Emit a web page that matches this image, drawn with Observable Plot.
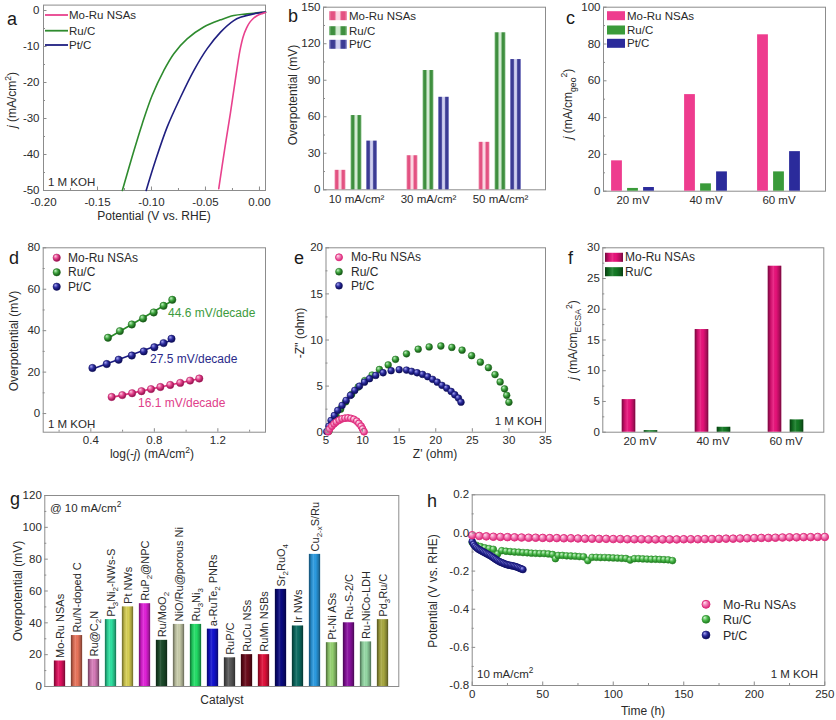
<!DOCTYPE html>
<html><head><meta charset="utf-8">
<script src="https://cdn.jsdelivr.net/npm/d3@7"></script>
<script src="https://cdn.jsdelivr.net/npm/@observablehq/plot@0.6"></script>
<style>
body{margin:0;background:#fff;}
#root{position:relative;width:836px;height:720px;overflow:hidden;background:#fff;}
#root svg{position:absolute;overflow:visible;}
</style></head><body><div id="root"></div>
<script>
// ---------------- DATA ----------------
// (a) LSV curves: potential (V vs RHE) and current density (mA/cm2)
const aMoRuV = [0.0056, 0.003, 0.000, -0.003, -0.006, -0.009, -0.012, -0.015, -0.018, -0.0222, -0.0269, -0.0324, -0.0377];
const aMoRuJ = [-0.55, -0.8, -1.1, -1.6, -2.3, -3.3, -4.9, -7.2, -11.0, -19.0, -28.5, -38.9, -49.5];
const aRuCV = [0.0056, -0.0114, -0.0238, -0.036, -0.0516, -0.067, -0.0793, -0.0886, -0.0994, -0.1086, -0.118, -0.127];
const aRuCJ = [-0.46, -0.93, -1.4, -2.6, -4.6, -7.9, -12.0, -16.7, -23.6, -31.5, -40.7, -50];
const aPtCV = [0.0056, -0.0053, -0.0176, -0.0238, -0.036, -0.0484, -0.0608, -0.0731, -0.0855, -0.0963, -0.1049];
const aPtCJ = [-0.46, -0.93, -1.9, -2.8, -6.0, -10.6, -16.7, -24.1, -32.4, -41.7, -50];

// (b) overpotential at current densities
const bCats = ["10 mA/cm²", "30 mA/cm²", "50 mA/cm²"];
const bMoRu = [16, 28, 39];
const bRuC = [61, 98, 129];
const bPtC = [40, 76, 107];

// (c) current density at overpotentials
const cCats = ["20 mV", "40 mV", "60 mV"];
const cMoRu = [16.5, 52.5, 85];
const cRuC = [1.5, 4, 10.5];
const cPtC = [2, 10.5, 21.5];

// (d) Tafel
const dMoRuX = [0.531, 0.598, 0.660, 0.719, 0.779, 0.838, 0.900, 0.963, 1.025, 1.083];
const dMoRuY = [8.0, 8.9, 9.8, 10.8, 11.8, 12.8, 13.8, 14.8, 15.9, 16.9];
const dRuCX = [0.508, 0.583, 0.658, 0.729, 0.796, 0.858, 0.913];
const dRuCY = [36.6, 39.8, 43.0, 45.9, 48.8, 52.0, 54.9];
const dPtCX = [0.41, 0.50, 0.575, 0.658, 0.733, 0.80, 0.858, 0.908];
const dPtCY = [22.0, 23.9, 26.0, 28.0, 30.0, 32.0, 34.0, 36.1];
const dSlopes = ["16.1 mV/decade", "44.6 mV/decade", "27.5 mV/decade"];

// (e) Nyquist
const eMoRuX = [5.3, 5.5, 5.8, 6.1, 6.4, 6.8, 7.2, 7.6, 8.0, 8.4, 8.8, 9.2, 9.5, 9.8, 10.0, 10.2];
const eMoRuY = [0.05, 0.35, 0.65, 0.9, 1.1, 1.3, 1.45, 1.52, 1.55, 1.5, 1.4, 1.2, 0.95, 0.65, 0.35, 0.05];
const eRuCX = [5.4, 5.9, 6.4, 7.0, 7.7, 8.5, 9.4, 10.3, 11.3, 12.3, 13.5, 14.5, 16.0, 17.6, 19.1, 20.7, 22.2, 23.6, 24.9, 26.1, 27.2, 28.1, 28.8, 29.4, 29.7, 30.0];
const eRuCY = [0.1, 0.9, 1.7, 2.5, 3.3, 4.1, 4.9, 5.6, 6.2, 6.8, 7.3, 7.9, 8.5, 9.0, 9.25, 9.35, 9.2, 8.9, 8.3, 7.6, 7.0, 6.25, 5.45, 4.7, 4.0, 3.25];
const ePtCX = [5.1, 5.4, 5.69, 6.14, 6.6, 7.2, 7.75, 8.34, 8.93, 9.58, 10.26, 10.95, 11.8, 12.8, 13.9, 15.0, 16.0, 16.7, 17.45, 18.2, 18.9, 19.57, 20.2, 20.85, 21.5, 22.1, 22.6, 23.1, 23.45];
const ePtCY = [0.07, 0.65, 1.27, 1.81, 2.36, 2.9, 3.45, 3.99, 4.53, 5.0, 5.43, 5.8, 6.16, 6.45, 6.67, 6.78, 6.74, 6.6, 6.45, 6.27, 6.02, 5.73, 5.43, 5.08, 4.78, 4.42, 4.06, 3.7, 3.26];

// (f) specific activity (ECSA normalised)
const fCats = ["20 mV", "40 mV", "60 mV"];
const fMoRu = [5.3, 16.7, 27.0];
const fRuC = [0.25, 0.8, 2.0];

// (g) comparison of catalysts @ 10 mA/cm2
const gNames = ["Mo-Ru NSAs", "Ru/N-doped C", "Ru@C_{2}N", "Pt_{3}Ni_{2}-NWs-S", "Pt NWs", "RuP_{2}@NPC", "Ru/MoO_{2}", "NiO/Ru@porous Ni", "Ru_{3}Ni_{3}", "a-RuTe_{2} PNRs", "RuP/C", "RuCu NSs", "RuMn NSBs", "Sr_{2}RuO_{4}", "Ir NWs", "Cu_{2-x}S/Ru", "Pt-Ni ASs", "Ru-S-2/C", "Ru-NiCo-LDH", "Pd_{3}Ru/C"];
const gValues = [16, 32, 17, 42, 50, 52, 29, 39, 39, 36, 18, 20, 20, 61, 38, 83, 27.5, 40, 28, 42];
const gColors = ["#e0115f", "#e8735a", "#d67bb8", "#2ee0a0", "#d6ce52", "#e020d8", "#1b4a2a", "#c8ccaa", "#22dd66", "#1212d0", "#585858", "#6a0a1a", "#e0103a", "#0a0a80", "#0b6a60", "#2a9ae0", "#94d070", "#8a10a0", "#94d8a4", "#a8a840"];

// (h) stability
const hMoRuT = [0,5,10,15,20,25,30,35,40,45,50,55,60,65,70,75,80,85,90,95,100,105,110,115,120,125,130,135,140,145,150,155,160,165,170,175,180,185,190,195,200,205,210,215,220,225,230,235,240,245,250];
const hMoRuV = [-0.012,-0.016,-0.018,-0.020,-0.021,-0.022,-0.023,-0.024,-0.025,-0.025,-0.026,-0.027,-0.027,-0.028,-0.028,-0.029,-0.030,-0.030,-0.031,-0.031,-0.032,-0.032,-0.033,-0.033,-0.033,-0.034,-0.034,-0.034,-0.034,-0.034,-0.033,-0.033,-0.033,-0.032,-0.032,-0.031,-0.030,-0.030,-0.029,-0.028,-0.027,-0.026,-0.026,-0.025,-0.024,-0.023,-0.023,-0.022,-0.022,-0.021,-0.021];
const hRuCT = [0,3,6,9,12,15,18,21,24,27,30,33,36,39,42,45,48,51,54,57,59,61,64,67,70,73,76,79,82,85,88,91,94,97,100,103,106,109,112,115,118,121,124,127,130,133,136,139,142];
const hRuCV = [-0.05,-0.065,-0.072,-0.078,-0.082,-0.086,-0.11,-0.093,-0.096,-0.098,-0.100,-0.101,-0.103,-0.104,-0.106,-0.107,-0.108,-0.108,-0.110,-0.113,-0.135,-0.118,-0.118,-0.120,-0.121,-0.122,-0.124,-0.125,-0.145,-0.128,-0.128,-0.129,-0.129,-0.130,-0.131,-0.132,-0.133,-0.134,-0.142,-0.135,-0.135,-0.136,-0.137,-0.138,-0.138,-0.139,-0.140,-0.141,-0.145];
const hPtCT = [0,1,2,3,4,5,6,7,8,9,10,11,12,13,14,15,16,17,18,19,20,21,22,23,24,25,26,27,28,29,30,31,32,33,34,35,36];
const hPtCV = [-0.045,-0.06,-0.07,-0.077,-0.083,-0.088,-0.092,-0.096,-0.100,-0.104,-0.108,-0.112,-0.116,-0.120,-0.125,-0.130,-0.135,-0.140,-0.145,-0.149,-0.153,-0.156,-0.159,-0.162,-0.165,-0.167,-0.169,-0.170,-0.172,-0.173,-0.175,-0.177,-0.180,-0.183,-0.186,-0.189,-0.192];

const series = ["Mo-Ru NSAs", "Ru/C", "Pt/C"];

// ---------------- HELPERS ----------------
const FONT = '"Liberation Sans", Arial, Helvetica, sans-serif';
const root = document.getElementById("root");
const AXC = "#8c8c8c";
const zip = (xs, ys) => xs.slice(0, Math.min(xs.length, ys.length)).map((x, i) => ({x, y: ys[i]}));
const cat = (cats, vs) => cats.map((c, i) => ({c, v: vs[i]}));

function box(L, T, W, H, x0, x1, y0, y1) {
  return {width: W, height: H, marginLeft: x0 - L, marginRight: L + W - x1, marginTop: y0 - T, marginBottom: T + H - y1};
}
function mk(opts, L, T) {
  const svg = Plot.plot({...opts, style: {fontFamily: FONT, fontSize: "11.5px", color: "#2a2a2a", background: "transparent", overflow: "visible"}});
  svg.style.position = "absolute"; svg.style.left = L + "px"; svg.style.top = T + "px";
  root.appendChild(svg);
  return svg;
}
function yAx(ticks, fmt, minor, pad = 3) {
  return [
    Plot.axisY({ticks, tickFormat: fmt, tickSize: 0, tickPadding: pad, label: null}),
    Plot.axisY({ticks, tickFormat: () => "", tickSize: -3.5, stroke: AXC, label: null}),
    minor ? Plot.axisY({ticks: minor, tickFormat: () => "", tickSize: -2, stroke: AXC, label: null}) : null
  ];
}
function xAx(ticks, fmt, minor, pad = 4) {
  return [
    Plot.axisX({ticks, tickFormat: fmt, tickSize: 0, tickPadding: pad, label: null}),
    Plot.axisX({ticks, tickFormat: () => "", tickSize: -3.5, stroke: AXC, label: null}),
    minor ? Plot.axisX({ticks: minor, tickFormat: () => "", tickSize: -2, stroke: AXC, label: null}) : null
  ];
}
const frame = () => Plot.frame({stroke: AXC});
const side = (w) => ({insetLeft: w, insetRight: w});

function richify(el, str, size) {
  while (el.firstChild) el.removeChild(el.firstChild);
  const re = /([_^*])\{([^}]*)\}/g;
  let last = 0, cur = 0, m;
  const segs = [];
  while ((m = re.exec(str))) {
    if (m.index > last) segs.push({t: str.slice(last, m.index), k: ""});
    segs.push({t: m[2], k: m[1]});
    last = re.lastIndex;
  }
  if (last < str.length) segs.push({t: str.slice(last), k: ""});
  for (const s of segs) {
    const ts = document.createElementNS("http://www.w3.org/2000/svg", "tspan");
    let target = 0;
    if (s.k === "_") { target = size * 0.3; ts.setAttribute("font-size", size * 0.72); }
    else if (s.k === "^") { target = -size * 0.42; ts.setAttribute("font-size", size * 0.72); }
    else if (s.k === "*") { ts.setAttribute("font-style", "italic"); }
    const dy = target - cur;
    if (dy) ts.setAttribute("dy", dy.toFixed(2));
    cur = target;
    ts.textContent = s.t;
    el.appendChild(ts);
  }
}

// ---------------- OVERLAY (defs, labels, legends) ----------------
const ov = d3.select(root).append("svg").attr("width", 836).attr("height", 720)
  .style("left", "0px").style("top", "0px").style("z-index", 5).style("pointer-events", "none");
const defs = ov.append("defs");
function linGrad(id, stops) {
  const g = defs.append("linearGradient").attr("id", id).attr("x1", 0).attr("x2", 1).attr("y1", 0).attr("y2", 0);
  stops.forEach(([o, c, op]) => g.append("stop").attr("offset", o).attr("stop-color", c).attr("stop-opacity", op == null ? 1 : op));
}
function radGrad(id, light, base, dark) {
  const g = defs.append("radialGradient").attr("id", id).attr("cx", 0.4).attr("cy", 0.38).attr("r", 0.62).attr("fx", 0.32).attr("fy", 0.28);
  g.append("stop").attr("offset", 0).attr("stop-color", light);
  g.append("stop").attr("offset", 0.5).attr("stop-color", base);
  g.append("stop").attr("offset", 1).attr("stop-color", dark);
}
function stripe(id, edge, dark, light) {
  linGrad(id, [[0, edge], [0.12, dark], [0.3, dark], [0.42, light], [0.58, light], [0.7, dark], [0.88, dark], [1, edge]]);
}
stripe("gbPink", "#f2a0bb", "#e35282", "#fbd6e2");
stripe("gbGreen", "#9ccc9c", "#3f8f3f", "#d3ebd3");
stripe("gbBlue", "#a8a8dc", "#3c3c94", "#d0d0f0");
linGrad("shade", [[0, "#000", 0.5], [0.22, "#000", 0.12], [0.42, "#fff", 0.12], [0.6, "#000", 0.0], [0.85, "#000", 0.25], [1, "#000", 0.5]]);
radGrad("sphPink", "#ffd0e4", "#e4428c", "#8c0e48");
radGrad("sphGreen", "#c4f2c4", "#3ba23b", "#124e12");
radGrad("sphNavy", "#a8a8f4", "#2a2a9c", "#0a0a50");
radGrad("sphPinkH", "#ffe6f1", "#f27ab4", "#d8287a");
radGrad("sphGreenH", "#d0f6d0", "#4cba4c", "#1e7a1e");

function T(x, y, str, o = {}) {
  const size = o.size || 12;
  const t = ov.append("text").attr("font-size", size).attr("text-anchor", o.anchor || "start")
    .attr("fill", o.fill || "#2a2a2a").attr("font-family", FONT);
  if (o.rotate) t.attr("transform", `translate(${x},${y}) rotate(${o.rotate})`);
  else t.attr("x", x).attr("y", y);
  richify(t.node(), str, size);
}

// ---------------- PANEL a ----------------
mk({
  ...box(0, 0, 275, 225, 43, 265, 4.6, 190),
  x: {domain: [-0.2, 0.0056]}, y: {domain: [-50, 1.5]},
  marks: [
    frame(),
    Plot.line(zip(aRuCV, aRuCJ), {x: "x", y: "y", stroke: "#2e8b2e", strokeWidth: 1.6, curve: "catmull-rom"}),
    Plot.line(zip(aPtCV, aPtCJ), {x: "x", y: "y", stroke: "#1f1f80", strokeWidth: 1.6, curve: "catmull-rom"}),
    Plot.line(zip(aMoRuV, aMoRuJ), {x: "x", y: "y", stroke: "#e8418d", strokeWidth: 1.6, curve: "catmull-rom"}),
    yAx([-50, -40, -30, -20, -10, 0], d => String(d), [-45, -35, -25, -15, -5], 4),
    xAx([-0.2, -0.15, -0.1, -0.05, 0], d => d.toFixed(2), [-0.175, -0.125, -0.075, -0.025], 7)
  ]
}, 0, 0);

// ---------------- PANEL b ----------------
mk({
  ...box(275, 0, 285, 225, 323, 545, 6.7, 189.3),
  x: {type: "band", domain: bCats, range: [45, 261], padding: 0},
  y: {domain: [0, 150]},
  marks: [
    frame(),
    Plot.barY(cat(bCats, bMoRu), {x: "c", y: "v", fill: "url(#gbPink)", ...side(30.5), dx: -16}),
    Plot.barY(cat(bCats, bRuC), {x: "c", y: "v", fill: "url(#gbGreen)", ...side(30.5), dx: 0}),
    Plot.barY(cat(bCats, bPtC), {x: "c", y: "v", fill: "url(#gbBlue)", ...side(30.5), dx: 15.5}),
    yAx([0, 30, 60, 90, 120, 150], d => String(d), [15, 45, 75, 105, 135]),
    Plot.axisX({tickSize: 0, tickPadding: 5, label: null})
  ]
}, 275, 0);

// ---------------- PANEL c ----------------
mk({
  ...box(560, 0, 276, 225, 603, 825, 6.7, 190.7),
  x: {type: "band", domain: cCats, range: [35.9, 255.6], padding: 0},
  y: {domain: [0, 100]},
  marks: [
    frame(),
    Plot.barY(cat(cCats, cMoRu), {x: "c", y: "v", fill: "#ee3c8e", ...side(31.1), dx: -16}),
    Plot.barY(cat(cCats, cRuC), {x: "c", y: "v", fill: "#3a9b3a", ...side(31.1), dx: 0}),
    Plot.barY(cat(cCats, cPtC), {x: "c", y: "v", fill: "#2b2b9b", ...side(31.1), dx: 16}),
    yAx([0, 20, 40, 60, 80, 100], d => String(d), [10, 30, 50, 70, 90]),
    Plot.axisX({tickSize: 0, tickPadding: 5, label: null})
  ]
}, 560, 0);

// ---------------- PANEL d ----------------
const dotD = (xs, ys, fill, stroke) => Plot.dot(zip(xs, ys), {x: "x", y: "y", r: 3.7, fill, stroke, strokeWidth: 0.5});
mk({
  ...box(0, 225, 275, 235, 42.7, 265, 247.3, 431.7),
  x: {domain: [0.1, 1.5]}, y: {domain: [-9, 80]},
  marks: [
    frame(),
    Plot.linearRegressionY(zip(dRuCX, dRuCY), {x: "x", y: "y", stroke: "#2a8a2a", strokeWidth: 1.6, ci: 0}),
    Plot.linearRegressionY(zip(dPtCX, dPtCY), {x: "x", y: "y", stroke: "#1a1a80", strokeWidth: 1.6, ci: 0}),
    Plot.linearRegressionY(zip(dMoRuX, dMoRuY), {x: "x", y: "y", stroke: "#e0307a", strokeWidth: 1.6, ci: 0}),
    dotD(dRuCX, dRuCY, "url(#sphGreen)", "#1e6a1e"),
    dotD(dPtCX, dPtCY, "url(#sphNavy)", "#101060"),
    dotD(dMoRuX, dMoRuY, "url(#sphPink)", "#b01860"),
    yAx([0, 20, 40, 60, 80], d => String(d), [10, 30, 50, 70]),
    xAx([0.4, 0.8, 1.2], d => d.toFixed(1), [0.2, 0.6, 1.0, 1.4])
  ]
}, 0, 225);

// ---------------- PANEL e ----------------
const dotE = (xs, ys, fill, stroke, sw = 0.5) => Plot.dot(zip(xs, ys), {x: "x", y: "y", r: 3.4, fill, stroke, strokeWidth: sw});
mk({
  ...box(275, 225, 285, 235, 325.5, 545, 247.3, 431.7),
  x: {domain: [5, 35]}, y: {domain: [0, 20]},
  marks: [
    frame(),
    dotE(eRuCX, eRuCY, "url(#sphGreen)", "#1e6a1e"),
    dotE(ePtCX, ePtCY, "url(#sphNavy)", "#101060"),
    dotE(eMoRuX, eMoRuY, "url(#sphPinkH)", "#e0307e", 1),
    yAx([0, 5, 10, 15, 20], d => String(d), [2.5, 7.5, 12.5, 17.5]),
    xAx([5, 10, 15, 20, 25, 30, 35], d => String(d))
  ]
}, 275, 225);

// ---------------- PANEL f ----------------
mk({
  ...box(560, 225, 276, 235, 602.3, 823.3, 247.3, 431.7),
  x: {type: "band", domain: fCats, range: [42.3, 263.3], padding: 0},
  y: {domain: [0, 30]},
  marks: [
    frame(),
    Plot.barY(cat(fCats, fMoRu), {x: "c", y: "v", fill: "#e8127a", ...side(29.75), dx: -11}),
    Plot.barY(cat(fCats, fMoRu), {x: "c", y: "v", fill: "url(#shade)", ...side(29.75), dx: -11}),
    Plot.barY(cat(fCats, fRuC), {x: "c", y: "v", fill: "#137a24", ...side(29.75), dx: 11}),
    Plot.barY(cat(fCats, fRuC), {x: "c", y: "v", fill: "url(#shade)", ...side(29.75), dx: 11}),
    yAx([0, 5, 10, 15, 20, 25, 30], d => String(d), [2.5, 7.5, 12.5, 17.5, 22.5, 27.5]),
    Plot.axisX({tickSize: 0, tickPadding: 5, label: null})
  ]
}, 560, 225);

// ---------------- PANEL g ----------------
const gData = gNames.map((n, i) => ({n, v: gValues[i], col: gColors[i]}));
const gSvg = mk({
  ...box(0, 465, 420, 255, 44.3, 398.3, 495, 686),
  x: {type: "band", domain: gNames, range: [48.6, 393.6], padding: 0, axis: null},
  y: {domain: [0, 120]},
  color: {type: "identity"},
  marks: [
    frame(),
    Plot.barY(gData, {x: "n", y: "v", fill: "col", ...side(2.9)}),
    Plot.barY(gData, {x: "n", y: "v", fill: "url(#shade)", ...side(2.9)}),
    Plot.text(gData, {x: "n", y: "v", text: "n", rotate: -90, textAnchor: "start", lineAnchor: "middle", dy: -3, fontSize: 11, fill: "#2a2a2a"}),
    yAx([0, 20, 40, 60, 80, 100, 120], d => String(d), [10, 30, 50, 70, 90, 110])
  ]
}, 0, 465);
gSvg.querySelectorAll("text").forEach(el => {
  const s = el.textContent;
  if (/[_^*]\{/.test(s)) richify(el, s, 11);
});

// ---------------- PANEL h ----------------
const dotH = (xs, ys, r, fill, stroke, sw = 0.6) => Plot.dot(zip(xs, ys), {x: "x", y: "y", r, fill, stroke, strokeWidth: sw});
mk({
  ...box(420, 465, 416, 255, 471.7, 824.3, 494.3, 685),
  x: {domain: [0, 250]}, y: {domain: [-0.8, 0.2]},
  marks: [
    frame(),
    dotH(hRuCT, hRuCV, 3.4, "url(#sphGreenH)", "#2a8a2a"),
    dotH(hPtCT, hPtCV, 3.4, "url(#sphNavy)", "#141470"),
    dotH(hMoRuT, hMoRuV, 3.8, "url(#sphPinkH)", "#e0307e", 1),
    yAx([-0.8, -0.6, -0.4, -0.2, 0, 0.2], d => d.toFixed(1), [-0.7, -0.5, -0.3, -0.1, 0.1]),
    xAx([0, 50, 100, 150, 200, 250], d => String(d), [25, 75, 125, 175, 225])
  ]
}, 420, 465);

// ---------------- TEXT / LEGENDS ----------------
[["a", 7, 25], ["b", 288, 22], ["c", 566, 24], ["d", 9, 264], ["e", 294, 264], ["f", 568, 264], ["g", 10, 505], ["h", 427, 507]]
  .forEach(([l, x, y]) => T(x, y, l, {size: 18, fill: "#1a1a1a"}));

T(154, 220, "Potential (V vs. RHE)", {anchor: "middle"});
T(16, 100, "*{j} (mA/cm^{2})", {anchor: "middle", rotate: -90});
T(297, 95, "Overpotential (mV)", {anchor: "middle", rotate: -90});
T(572, 104, "*{j} (mA/cm_{geo}^{2})", {anchor: "middle", rotate: -90});
T(152, 458, "log(-*{j}) (mA/cm^{2})", {anchor: "middle"});
T(18, 341, "Overpotential (mV)", {anchor: "middle", rotate: -90});
T(435, 458, "Z' (ohm)", {anchor: "middle"});
T(304, 333, "-Z'' (ohm)", {anchor: "middle", rotate: -90});
T(577, 340, "*{j} (mA/cm_{ECSA}^{2})", {anchor: "middle", rotate: -90});
T(22, 591, "Overpotential (mV)", {anchor: "middle", rotate: -90});
T(222, 704, "Catalyst", {anchor: "middle"});
T(437, 591, "Potential (V vs. RHE)", {anchor: "middle", rotate: -90});
T(643, 715, "Time (h)", {anchor: "middle"});

T(48, 186, "1 M KOH", {size: 11.5});
T(48, 428, "1 M KOH", {size: 11.5});
T(542, 425, "1 M KOH", {size: 11.5, anchor: "end"});
T(818, 678, "1 M KOH", {size: 11.5, anchor: "end"});
T(477, 678, "10 mA/cm^{2}", {size: 11.5});
T(50, 512, "@ 10 mA/cm^{2}", {size: 11.5});
T(138, 406.5, dSlopes[0], {fill: "#e0408a"});
T(168, 317, dSlopes[1], {fill: "#3d9b3d"});
T(150, 363, dSlopes[2], {fill: "#2a2a8a"});

const aCols = ["#e8418d", "#2e8b2e", "#1f1f80"];
[15, 30.7, 45].forEach((y, i) => {
  ov.append("line").attr("x1", 45).attr("x2", 68).attr("y1", y).attr("y2", y).attr("stroke", aCols[i]).attr("stroke-width", 1.8);
  T(69, y + 4, series[i], {size: 11.5});
});
const bFills = ["url(#gbPink)", "url(#gbGreen)", "url(#gbBlue)"];
[15.7, 30.7, 44.3].forEach((y, i) => {
  ov.append("rect").attr("x", 329).attr("y", y - 4.5).attr("width", 18).attr("height", 9).attr("fill", bFills[i]);
  T(349, y + 4, series[i], {size: 11.5});
});
const cFills = ["#ee3c8e", "#3a9b3a", "#2b2b9b"];
[15.7, 30, 43.3].forEach((y, i) => {
  ov.append("rect").attr("x", 607).attr("y", y - 4.5).attr("width", 18).attr("height", 9).attr("fill", cFills[i]);
  T(627, y + 4, series[i], {size: 11.5});
});
const sph = [["url(#sphPink)", "#b01860"], ["url(#sphGreen)", "#1e6a1e"], ["url(#sphNavy)", "#101060"]];
[257.7, 272.3, 286.7].forEach((y, i) => {
  ov.append("circle").attr("cx", 56.7).attr("cy", y).attr("r", 3.7).attr("fill", sph[i][0]).attr("stroke", sph[i][1]).attr("stroke-width", 0.5);
  T(68, y + 4, series[i]);
});
const sphE = [["url(#sphPinkH)", "#e0307e", 1], ["url(#sphGreen)", "#1e6a1e", 0.5], ["url(#sphNavy)", "#101060", 0.5]];
[257.3, 271.7, 285.7].forEach((y, i) => {
  ov.append("circle").attr("cx", 339).attr("cy", y).attr("r", 3.5).attr("fill", sphE[i][0]).attr("stroke", sphE[i][1]).attr("stroke-width", sphE[i][2]);
  T(351, y + 4, series[i]);
});
const fFills = ["#e8127a", "#137a24"];
[257.3, 271.7].forEach((y, i) => {
  ov.append("rect").attr("x", 605).attr("y", y - 4.5).attr("width", 18).attr("height", 9).attr("fill", fFills[i]);
  ov.append("rect").attr("x", 605).attr("y", y - 4.5).attr("width", 18).attr("height", 9).attr("fill", "url(#shade)");
  T(625, y + 4, series[i]);
});
const sphH = [["url(#sphPinkH)", "#e0307e", 1], ["url(#sphGreenH)", "#2a8a2a", 0.6], ["url(#sphNavy)", "#141470", 0.6]];
[604.3, 619.3, 635].forEach((y, i) => {
  ov.append("circle").attr("cx", 706).attr("cy", y).attr("r", 4).attr("fill", sphH[i][0]).attr("stroke", sphH[i][1]).attr("stroke-width", sphH[i][2]);
  T(723, y + 4.5, series[i], {size: 12.5});
});
</script></body></html>
